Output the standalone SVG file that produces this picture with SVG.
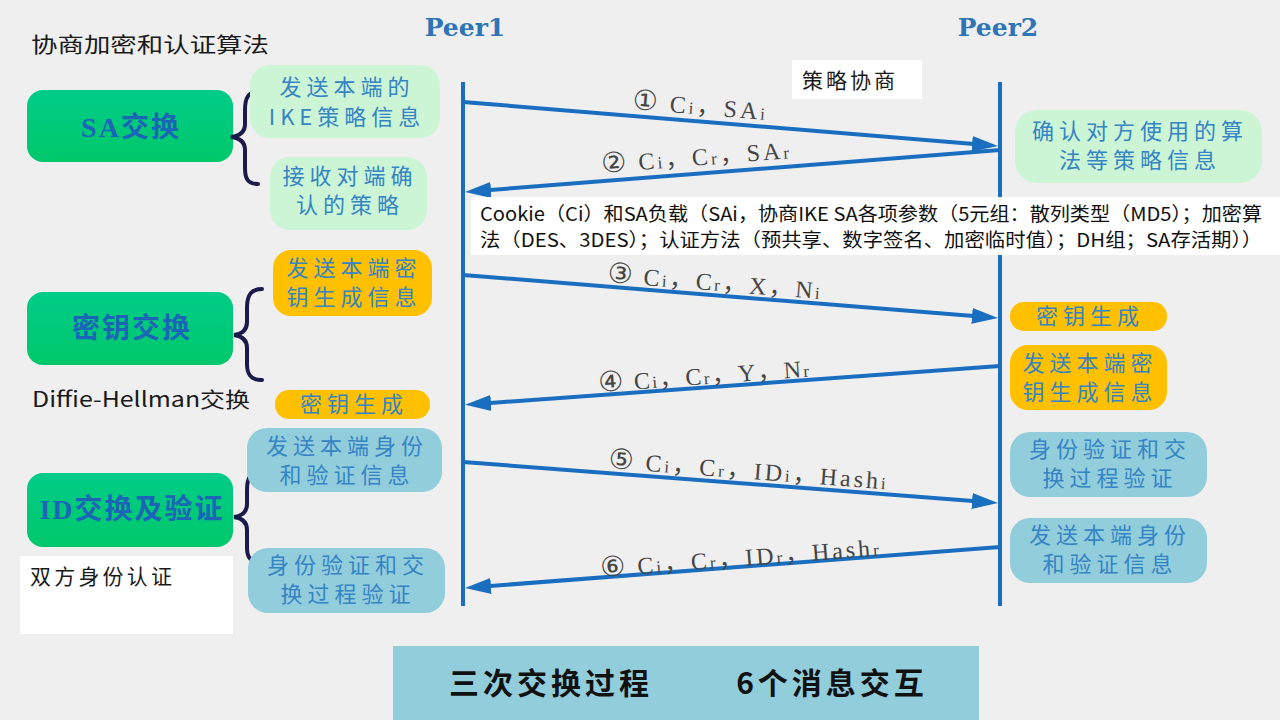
<svg xmlns="http://www.w3.org/2000/svg" width="1280" height="720" viewBox="0 0 1280 720">
<defs>
<style>
.bg{fill:#efefef}
.peer{font-family:"DejaVu Serif","Liberation Serif",serif;font-weight:bold;font-size:25px;fill:#2e75b6}
.life{stroke:#1a6ec0;stroke-width:4;fill:none}
.arr{stroke:#1a6ec0;stroke-width:4;fill:none;marker-end:url(#ah)}
.lbl{font-family:"Liberation Serif","DejaVu Serif","Noto Sans CJK SC",serif;font-size:24px;fill:#454545}
.s{font-size:17px}
.c{font-family:"DejaVu Sans","Noto Sans CJK SC",sans-serif;font-size:28px}
.gbox{fill:url(#gg)}
.gtxt{font-family:"Liberation Serif","Noto Sans CJK SC",serif;font-weight:bold;font-size:28px;fill:#1c64b8;text-anchor:middle;letter-spacing:2px}
.lg{fill:#ccf5d5}
.or{fill:#ffc000}
.lb{fill:#92cddc}
.bt{font-family:"Noto Sans CJK SC","Noto Sans",sans-serif;font-size:22px;fill:#3584c4;text-anchor:middle;letter-spacing:5px}
.brace{stroke:#1b1b4b;stroke-width:4;fill:none;stroke-linecap:round}
.note{font-family:"Noto Sans CJK SC","Noto Sans",sans-serif;font-size:21px;fill:#1a1a1a}
.wbox{fill:#ffffff}
.ck{font-family:"Noto Sans CJK SC","Noto Sans",sans-serif;font-size:19px;fill:#111}
.big{font-family:"Noto Sans CJK SC",sans-serif;font-weight:bold;font-size:30px;fill:#111;text-anchor:middle;letter-spacing:4px}
</style>
<linearGradient id="gg" x1="0" y1="0" x2="0" y2="1">
<stop offset="0" stop-color="#00cc88"/>
<stop offset="1" stop-color="#00c86a"/>
</linearGradient>
<marker id="ah" markerUnits="userSpaceOnUse" markerWidth="26" markerHeight="18" refX="14" refY="9" orient="auto">
<path d="M0,1 L26,9 L0,17 Z" fill="#1a6ec0"/>
</marker>
</defs>
<rect class="bg" x="0" y="0" width="1280" height="720"/>

<g id="title"><text class="note" x="31" y="52" font-size="22" textLength="238" lengthAdjust="spacingAndGlyphs">协商加密和认证算法</text></g>

<g id="peer1"><text class="peer" x="465" y="36" text-anchor="middle">Peer1</text></g>
<g id="peer2"><text class="peer" x="998" y="36" text-anchor="middle">Peer2</text></g>

<g id="strategy-note"><rect class="wbox" x="792" y="60" width="130" height="39"/><text class="note" x="802" y="88" textLength="93">策略协商</text></g>

<g id="connectors">
<line class="life" x1="463" y1="82" x2="463" y2="606"/>
<line class="life" x1="1000" y1="82" x2="1000" y2="606"/>
<line class="arr" x1="463" y1="102" x2="986" y2="145"/>
<line class="arr" x1="1000" y1="150" x2="477" y2="191"/>
<line class="arr" x1="463" y1="275" x2="986" y2="317"/>
<line class="arr" x1="1000" y1="366" x2="477" y2="404"/>
<line class="arr" x1="463" y1="462" x2="986" y2="502"/>
<line class="arr" x1="1000" y1="547" x2="477" y2="587"/>
<text class="lbl" x="632" y="109" transform="rotate(4.7 632 109)" textLength="133"><tspan class="c">①</tspan> C<tspan class="s">i</tspan>，SA<tspan class="s">i</tspan></text>
<text class="lbl" x="602" y="173" transform="rotate(-4.5 602 173)" textLength="188"><tspan class="c">②</tspan> C<tspan class="s">i</tspan>，C<tspan class="s">r</tspan>，SA<tspan class="s">r</tspan></text>
<text class="lbl" x="607" y="282" transform="rotate(4.6 607 282)" textLength="213"><tspan class="c">③</tspan> C<tspan class="s">i</tspan>，C<tspan class="s">r</tspan>，X，N<tspan class="s">i</tspan></text>
<text class="lbl" x="599" y="392" transform="rotate(-4.2 599 392)" textLength="211"><tspan class="c">④</tspan> C<tspan class="s">i</tspan>，C<tspan class="s">r</tspan>，Y，N<tspan class="s">r</tspan></text>
<text class="lbl" x="608" y="468" transform="rotate(4.4 608 468)" textLength="278"><tspan class="c">⑤</tspan> C<tspan class="s">i</tspan>，C<tspan class="s">r</tspan>，ID<tspan class="s">i</tspan>，Hash<tspan class="s">i</tspan></text>
<text class="lbl" x="601" y="577" transform="rotate(-4.4 601 577)" textLength="279"><tspan class="c">⑥</tspan> C<tspan class="s">i</tspan>，C<tspan class="s">r</tspan>，ID<tspan class="s">r</tspan>，Hash<tspan class="s">r</tspan></text>
</g>

<g id="cookie-note">
<rect class="wbox" x="471" y="197" width="809" height="58"/>
<text class="ck" x="480" y="221" textLength="782" lengthAdjust="spacingAndGlyphs">Cookie（Ci）和SA负载（SAi，协商IKE SA各项参数（5元组：散列类型（MD5）；加密算</text>
<text class="ck" x="480" y="247" textLength="782" lengthAdjust="spacingAndGlyphs">法（DES、3DES）；认证方法（预共享、数字签名、加密临时值）；DH组；SA存活期））</text>
</g>

<g id="sa-exchange">
<rect class="gbox" x="27" y="90" width="206" height="72" rx="16"/>
<text class="gtxt" x="131" y="137">SA交换</text>
<path class="brace" d="M258,92 C248,92 245,98 245,110 L245,124 C245,132 240,136 231,137 C240,138 245,142 245,150 L245,168 C245,179 248,184 258,184"/>
</g>
<g id="key-exchange">
<rect class="gbox" x="27" y="292" width="206" height="73" rx="16"/>
<text class="gtxt" x="132" y="338">密钥交换</text>
<path class="brace" d="M262,289 C251,289 247,295 247,308 L247,322 C247,330 242,334 234,335 C242,336 247,340 247,348 L247,364 C247,375 251,380 262,380"/>
</g>
<g id="id-exchange">
<rect class="gbox" x="27" y="473" width="206" height="74" rx="16"/>
<text class="gtxt" x="132" y="519">ID交换及验证</text>
<path class="brace" d="M262,471 C251,471 247,477 247,490 L247,504 C247,512 242,516 234,517 C242,518 247,522 247,530 L247,548 C247,558 251,563 262,563"/>
</g>

<g id="dh-label"><text class="note" x="32" y="407" textLength="218" lengthAdjust="spacingAndGlyphs">Diffie-Hellman交换</text></g>
<g id="mutual-auth"><rect class="wbox" x="20" y="556" width="213" height="78"/><text class="note" x="30" y="584" font-size="22" textLength="142">双方身份认证</text></g>

<g id="l-send-policy"><rect class="lg" x="250" y="65" width="190" height="73" rx="20"/><text class="bt" x="347" y="95">发送本端的</text><text class="bt" x="347" y="125">IKE策略信息</text></g>
<g id="l-recv-policy"><rect class="lg" x="270" y="157" width="157" height="73" rx="20"/><text class="bt" x="350" y="184">接收对端确</text><text class="bt" x="350" y="213">认的策略</text></g>
<g id="r-confirm-policy"><rect class="lg" x="1015" y="110" width="247" height="73" rx="22"/><text class="bt" x="1140" y="139">确认对方使用的算</text><text class="bt" x="1140" y="168">法等策略信息</text></g>

<g id="l-send-key"><rect class="or" x="273" y="250" width="159" height="66" rx="18"/><text class="bt" x="354" y="276">发送本端密</text><text class="bt" x="354" y="305">钥生成信息</text></g>
<g id="l-keygen"><rect class="or" x="275" y="390" width="155" height="29" rx="14"/><text class="bt" x="354" y="412">密钥生成</text></g>
<g id="r-keygen"><rect class="or" x="1010" y="302" width="157" height="29" rx="14"/><text class="bt" x="1090" y="324">密钥生成</text></g>
<g id="r-send-key"><rect class="or" x="1010" y="345" width="157" height="65" rx="18"/><text class="bt" x="1090" y="371">发送本端密</text><text class="bt" x="1090" y="400">钥生成信息</text></g>

<g id="l-send-id"><rect class="lb" x="247" y="428" width="195" height="64" rx="20"/><text class="bt" x="347" y="454">发送本端身份</text><text class="bt" x="347" y="483">和验证信息</text></g>
<g id="l-verify"><rect class="lb" x="248" y="548" width="197" height="65" rx="20"/><text class="bt" x="348" y="573">身份验证和交</text><text class="bt" x="348" y="602">换过程验证</text></g>
<g id="r-verify"><rect class="lb" x="1010" y="432" width="197" height="65" rx="20"/><text class="bt" x="1110" y="457">身份验证和交</text><text class="bt" x="1110" y="486">换过程验证</text></g>
<g id="r-send-id"><rect class="lb" x="1010" y="518" width="197" height="65" rx="20"/><text class="bt" x="1110" y="543">发送本端身份</text><text class="bt" x="1110" y="572">和验证信息</text></g>

<g id="summary">
<rect class="lb" x="393" y="646" width="586" height="74"/>
<text class="big" x="551" y="694">三次交换过程</text>
<text class="big" x="832" y="694">6个消息交互</text>
</g>
</svg>
